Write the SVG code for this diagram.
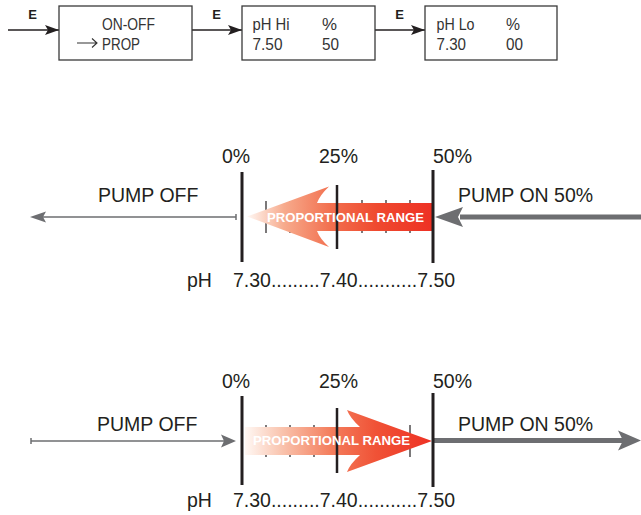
<svg xmlns="http://www.w3.org/2000/svg" width="641" height="515" viewBox="0 0 641 515">
<defs>
<style>
.box{fill:#fff;stroke:#3a3a3a;stroke-width:1.3}
.bt{font-family:"Liberation Sans",Arial,sans-serif;font-size:16px;fill:#333}
.e{font-family:"Liberation Sans",Arial,sans-serif;font-size:13px;font-weight:bold;fill:#231f20;text-anchor:middle}
.flow{stroke:#231f20;stroke-width:1.3;fill:none}
.lbl{font-family:"Liberation Sans",Arial,sans-serif;font-size:19.5px;fill:#231f20}
.major{stroke:#231f20;stroke-width:3}
.mid{stroke:#231f20;stroke-width:2.5}
.tick{stroke:#231f20;stroke-width:1.2}
.prt{font-family:"Liberation Sans",Arial,sans-serif;font-size:13px;font-weight:bold;fill:#fff}
.gthin{stroke:#6d6e71;stroke-width:1.5;fill:none}
.gthick{stroke:#6d6e71;stroke-width:5;fill:none}
.ghead{fill:#6d6e71}
</style>
<marker id="ah" viewBox="0 0 14 10" refX="14" refY="5" markerWidth="14" markerHeight="10" markerUnits="userSpaceOnUse" orient="auto">
<path d="M0,0 L14,5 L0,10 L3,5 Z" fill="#231f20"/>
</marker>
<linearGradient id="g1" gradientUnits="userSpaceOnUse" x1="432" y1="0" x2="247" y2="0">
<stop offset="0" stop-color="#ee3124"/>
<stop offset="0.3" stop-color="#ef4a2f"/>
<stop offset="0.55" stop-color="#f2704f"/>
<stop offset="0.8" stop-color="#f7ab8d"/>
<stop offset="1" stop-color="#fff8f4"/>
</linearGradient>
<linearGradient id="g2" gradientUnits="userSpaceOnUse" x1="245" y1="0" x2="432" y2="0">
<stop offset="0" stop-color="#fff8f4"/>
<stop offset="0.2" stop-color="#f9c3ad"/>
<stop offset="0.45" stop-color="#f4805f"/>
<stop offset="0.7" stop-color="#f05236"/>
<stop offset="1" stop-color="#ee3124"/>
</linearGradient>
</defs>

<g id="connectors">
<line class="flow" x1="8" y1="30" x2="59" y2="30" marker-end="url(#ah)"/>
<line class="flow" x1="192" y1="30" x2="242" y2="30" marker-end="url(#ah)"/>
<line class="flow" x1="375" y1="30" x2="425" y2="30" marker-end="url(#ah)"/>
<text class="e" x="32.5" y="19">E</text>
<text class="e" x="216.5" y="19">E</text>
<text class="e" x="399.5" y="19">E</text>
</g>

<g id="box-mode">
<rect class="box" x="59" y="6" width="133" height="54"/>
<text class="bt" x="102" y="29.5" textLength="53" lengthAdjust="spacingAndGlyphs">ON-OFF</text>
<path d="M77,43 H97 M92,38.5 L97,43 L92,47.5" fill="none" stroke="#333" stroke-width="1.1"/>
<text class="bt" x="102" y="49.5" textLength="38" lengthAdjust="spacingAndGlyphs">PROP</text>
</g>

<g id="box-phhi">
<rect class="box" x="242" y="6" width="133" height="54"/>
<text class="bt" x="252.5" y="29.5" textLength="37" lengthAdjust="spacingAndGlyphs">pH Hi</text>
<text class="bt" x="322" y="29.5" textLength="15" lengthAdjust="spacingAndGlyphs">%</text>
<text class="bt" x="252.5" y="49.5" textLength="30" lengthAdjust="spacingAndGlyphs">7.50</text>
<text class="bt" x="322" y="49.5" textLength="17" lengthAdjust="spacingAndGlyphs">50</text>
</g>

<g id="box-phlo">
<rect class="box" x="425" y="6" width="132" height="54"/>
<text class="bt" x="436.5" y="29.5" textLength="38" lengthAdjust="spacingAndGlyphs">pH Lo</text>
<text class="bt" x="506" y="29.5" textLength="14" lengthAdjust="spacingAndGlyphs">%</text>
<text class="bt" x="436.5" y="49.5" textLength="29.5" lengthAdjust="spacingAndGlyphs">7.30</text>
<text class="bt" x="506" y="49.5" textLength="17" lengthAdjust="spacingAndGlyphs">00</text>
</g>

<g id="scale-decreasing">
<text class="lbl" x="236" y="163" text-anchor="middle">0%</text>
<text class="lbl" x="319" y="163">25%</text>
<text class="lbl" x="433" y="163">50%</text>
<text class="lbl" x="98" y="202">PUMP OFF</text>
<text class="lbl" x="458" y="202">PUMP ON 50%</text>
<line class="gthin" x1="236" y1="217" x2="42" y2="217"/>
<line class="gthin" x1="236" y1="214" x2="236" y2="220"/>
<path class="ghead" d="M30,217 L46,211.5 L43,217 L46,222.5 Z"/>
<line class="gthick" x1="641" y1="217" x2="460" y2="217"/>
<path class="ghead" d="M435,217 L463,207 L458,217 L463,227 Z"/>
<g>
<line class="tick" x1="266" y1="201" x2="266" y2="233"/>
<line class="tick" x1="290" y1="201" x2="290" y2="233"/>
<line class="tick" x1="314" y1="201" x2="314" y2="233"/>
<line class="tick" x1="362" y1="200" x2="362" y2="233"/>
<line class="tick" x1="386" y1="200" x2="386" y2="233"/>
<line class="tick" x1="410" y1="200" x2="410" y2="233"/>
</g>
<path d="M247,216.5 L329,186.5 Q320,195 317,203 L432,203 L432,231 L317,231 Q320,239 329,247 Z" fill="url(#g1)"/>
<line class="major" x1="242" y1="172" x2="242" y2="262"/>
<line class="mid" x1="337" y1="185" x2="337" y2="249"/>
<line class="major" x1="433" y1="170" x2="433" y2="263"/>
<text class="prt" x="267" y="221.5" textLength="157" lengthAdjust="spacingAndGlyphs">PROPORTIONAL RANGE</text>
<text class="lbl" x="187" y="287">pH</text>
<text class="lbl" x="233" y="287">7.30.........7.40...........7.50</text>
</g>

<g id="scale-increasing">
<text class="lbl" x="236" y="387.5" text-anchor="middle">0%</text>
<text class="lbl" x="319" y="387.5">25%</text>
<text class="lbl" x="433" y="387.5">50%</text>
<text class="lbl" x="97" y="430.5">PUMP OFF</text>
<text class="lbl" x="458" y="431">PUMP ON 50%</text>
<line class="gthin" x1="31" y1="441" x2="226" y2="441"/>
<line class="gthin" x1="31" y1="438" x2="31" y2="444"/>
<path class="ghead" d="M236,441 L221,434.5 L224,441 L221,447.5 Z"/>
<line class="gthick" x1="434" y1="440.5" x2="624" y2="440.5"/>
<path class="ghead" d="M641,440.5 L618,430.5 L623,440.5 L618,450.5 Z"/>
<g>
<line class="tick" x1="266" y1="425" x2="266" y2="457"/>
<line class="tick" x1="290" y1="425" x2="290" y2="457"/>
<line class="tick" x1="314" y1="425" x2="314" y2="457"/>
<line class="tick" x1="362" y1="425" x2="362" y2="457"/>
<line class="tick" x1="386" y1="425" x2="386" y2="457"/>
<line class="tick" x1="410" y1="425" x2="410" y2="457"/>
</g>
<path d="M245,427 L360,427 Q350,418 347,410 L432,441 L347,472 Q350,464 360,455 L245,455 Z" fill="url(#g2)"/>
<line class="major" x1="242" y1="396" x2="242" y2="485"/>
<line class="mid" x1="337" y1="408" x2="337" y2="473"/>
<line class="major" x1="433" y1="393" x2="433" y2="487"/>
<text class="prt" x="253" y="444.5" textLength="157" lengthAdjust="spacingAndGlyphs">PROPORTIONAL RANGE</text>
<text class="lbl" x="187" y="507">pH</text>
<text class="lbl" x="233" y="507">7.30.........7.40...........7.50</text>
</g>
</svg>
